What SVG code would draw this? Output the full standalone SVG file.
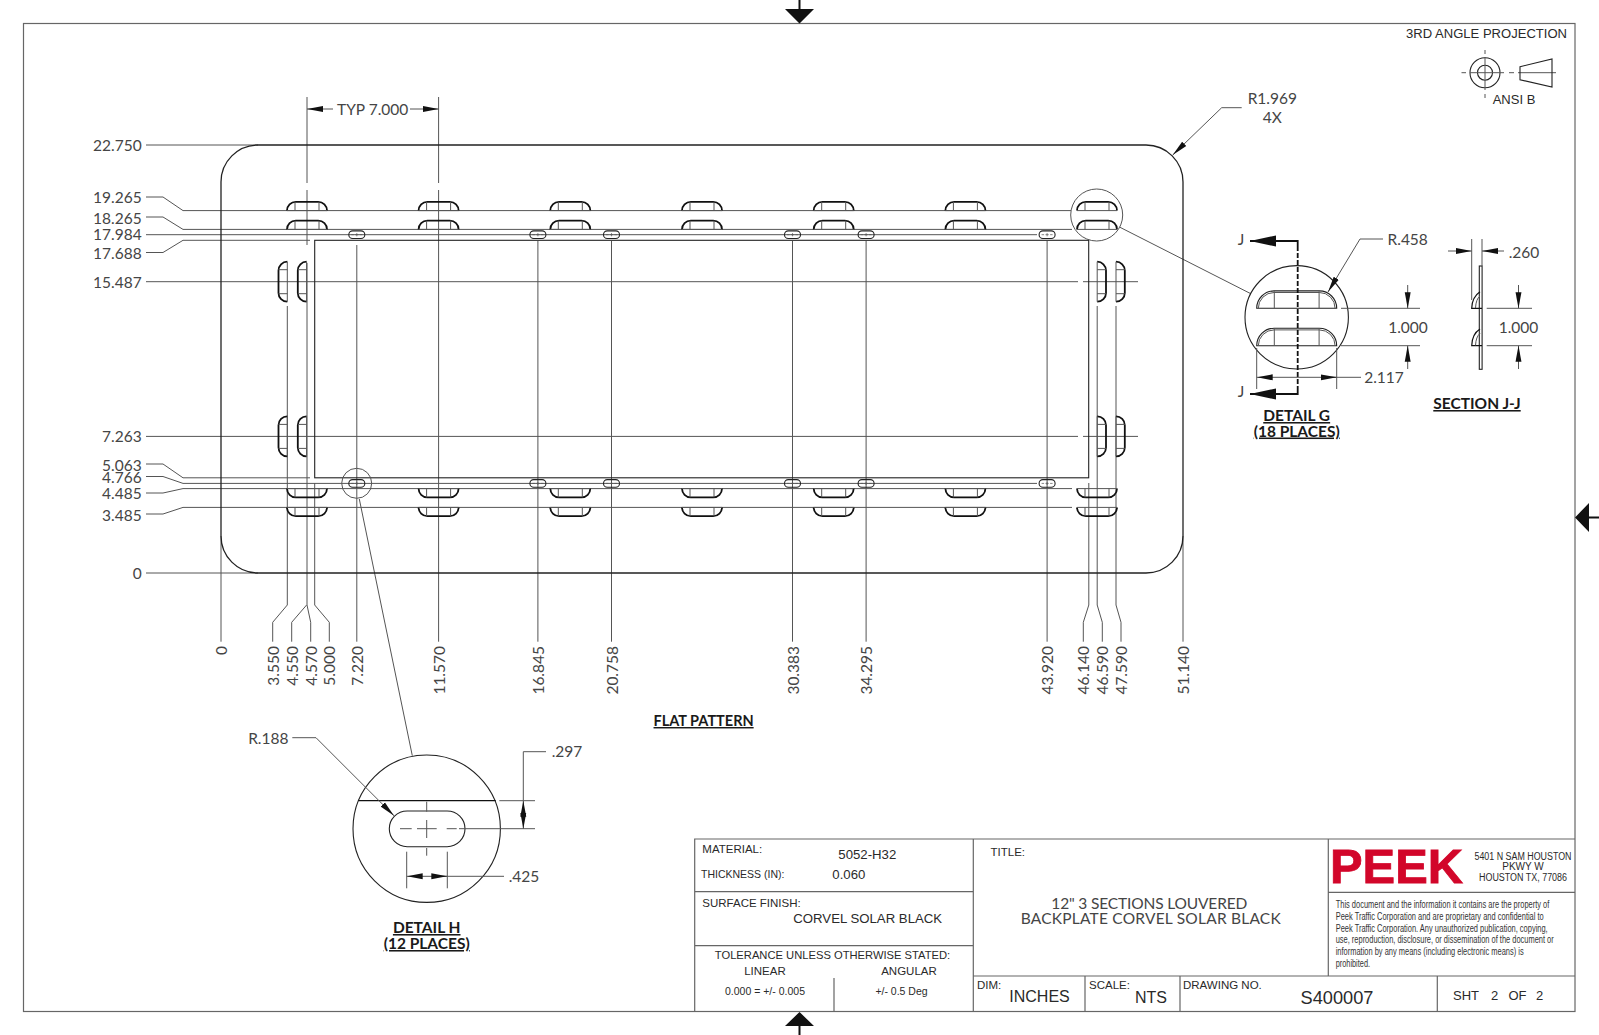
<svg xmlns="http://www.w3.org/2000/svg" xmlns:xlink="http://www.w3.org/1999/xlink" width="1599" height="1035" viewBox="0 0 1599 1035">
<style>
text{font-family:"Liberation Sans",Arial,sans-serif;fill:#2a2a2a}
.d{font-family:Lato,"Open Sans",sans-serif;font-size:15.5px;fill:#454545}
.e{text-anchor:end}.m{text-anchor:middle}
.h{font-family:Lato,"Open Sans",sans-serif;font-size:15.5px;font-weight:700;fill:#1a1a1a;text-anchor:middle;text-decoration:underline}
.ext{fill:none;stroke:#555;stroke-width:1}
.dk{fill:none;stroke:#222;stroke-width:1.1}
.th{fill:none;stroke:#111;stroke-width:1.8}
.tb{fill:none;stroke:#666;stroke-width:1.2}
.arr{marker-end:url(#ah)}
.fine{font-size:11.4px;fill:#333}
.s{font-size:11.5px}
.b{font-size:13.2px}
</style>
<defs>
<marker id="ah" markerUnits="userSpaceOnUse" markerWidth="16" markerHeight="8" viewBox="0 0 14 6" refX="14" refY="3" orient="auto"><path d="M0,0.4L14,3L0,5.6z" fill="#111"/></marker>
<marker id="aj" markerUnits="userSpaceOnUse" markerWidth="26" markerHeight="12" viewBox="0 0 26 12" refX="26" refY="6" orient="auto"><path d="M0,0.5L0,11.5L26,6z" fill="#111"/></marker>
<g id="lv"><path class="th" d="M-20,0A8.8,8.8 0 0 1 -11.2,-8.8H11.2A8.8,8.8 0 0 1 20,0"/><path class="ext" d="M-20,0H20M-12,0V-8.8M12,0V-8.8"/></g>
<g id="sl"><rect class="dk" x="-8" y="-3.8" width="16" height="7.6" rx="3.8"/><path class="ext" d="M-5.5,0H-3M-1.6,0H1.6M3,0H5.5M0,-1.6V1.6" style="stroke-width:.7"/></g>
<g id="ln"><path class="dk" d="M-40,0A17.4,17.4 0 0 1 -22.6,-17.4H22.6A17.4,17.4 0 0 1 40,0Z"/><path class="ext" d="M-38.4,0A15.8,15.8 0 0 1 -22.6,-15.8H22.6A15.8,15.8 0 0 1 38.4,0M-22.4,0V-17M22.4,0V-17"/></g>
</defs>
<rect width="1599" height="1035" fill="#fff"/>
<g id="frame">
<rect class="tb" x="23.5" y="23.5" width="1551.5" height="988"/>
<path d="M785,9H814L799.5,23.5zM1589,503V532L1575,517.5zM785,1026H814L799.5,1012z" fill="#111"/>
<path d="M799.5,0V10M1588,517.5H1599M799.5,1025V1035" stroke="#111" stroke-width="2" fill="none"/>
</g>
<g id="projection">
<text x="1406" y="38.3" style="font-size:13.6px" textLength="161" lengthAdjust="spacingAndGlyphs">3RD ANGLE PROJECTION</text>
<circle class="dk" cx="1485" cy="72.7" r="15"/><circle class="dk" cx="1485" cy="72.7" r="7.5"/>
<path class="ext" d="M1461.5,72.7H1466M1470,72.7H1504M1509,72.7H1514M1518,72.7H1556M1485,50V54M1485,57V90M1485,94V98"/>
<path class="dk" d="M1520,66.7L1552,59V87L1520,79.7Z"/>
<text class="m" x="1514" y="104" style="font-size:13px">ANSI B</text>
</g>
<g id="connectors">
<path class="ext" d="M146,145H258M146,197H163L183,210.6H1071M146,217H163L183,229.4H1072M146,234.7H1037M146,252.5H163L183,240.3H310M146,281.7H1078M1083,281.7H1138M146,436.4H1078M1083,436.4H1138M146,464H163L183,477.8H310M146,476.5H163L183,483.4H1037M146,493H163L183,488.6H1072M146,514H163L183,507.4H1072M146,573H258"/>
<path class="ext" d="M307,97V183M307,190V245M307,263V605L310.7,622.3V641.7M306.6,605L291.7,622.3V641.7M287.3,306V605L272.7,622.3V641.7M314.7,483V605L329.3,622.3V641.7M221,536V641.7M356.8,245V641.7M438.6,97V183M438.6,190V641.7M537.9,241V641.7M611.5,241V641.7M792.5,241V641.7M866.1,241V641.7M1047.1,241V641.7M1088.8,483V605L1083.3,622.3V641.7M1097.2,306V605L1102.3,622.3V641.7M1116,306V605L1121,622.3V641.7M1183,536V641.7"/>
<path class="ext arr" d="M333,109H307"/><path class="ext arr" d="M410,109H438.6"/>
<path class="ext arr" d="M1241.7,107.7H1221.7L1172.7,155"/>
<path class="ext" d="M1120,227.3L1250,293.3M359.3,499L412.3,755.7"/>
</g>
<g id="flat-pattern">
<rect class="dk" x="221" y="145" width="962" height="428" rx="37" style="stroke-width:1.3"/>
<rect class="dk" x="314.7" y="240.3" width="774" height="237.5"/>
<g id="louvers-top">
<use href="#lv" x="307" y="210.6"/><use href="#lv" x="307" y="229.4"/><use href="#lv" x="438.6" y="210.6"/><use href="#lv" x="438.6" y="229.4"/><use href="#lv" x="570.3" y="210.6"/><use href="#lv" x="570.3" y="229.4"/><use href="#lv" x="702" y="210.6"/><use href="#lv" x="702" y="229.4"/><use href="#lv" x="833.7" y="210.6"/><use href="#lv" x="833.7" y="229.4"/><use href="#lv" x="965.4" y="210.6"/><use href="#lv" x="965.4" y="229.4"/><use href="#lv" x="1097" y="210.6"/><use href="#lv" x="1097" y="229.4"/>
</g>
<g id="louvers-bottom">
<use href="#lv" transform="translate(307,488.6) scale(1,-1)"/><use href="#lv" transform="translate(307,507.4) scale(1,-1)"/><use href="#lv" transform="translate(438.6,488.6) scale(1,-1)"/><use href="#lv" transform="translate(438.6,507.4) scale(1,-1)"/><use href="#lv" transform="translate(570.3,488.6) scale(1,-1)"/><use href="#lv" transform="translate(570.3,507.4) scale(1,-1)"/><use href="#lv" transform="translate(702,488.6) scale(1,-1)"/><use href="#lv" transform="translate(702,507.4) scale(1,-1)"/><use href="#lv" transform="translate(833.7,488.6) scale(1,-1)"/><use href="#lv" transform="translate(833.7,507.4) scale(1,-1)"/><use href="#lv" transform="translate(965.4,488.6) scale(1,-1)"/><use href="#lv" transform="translate(965.4,507.4) scale(1,-1)"/><use href="#lv" transform="translate(1097,488.6) scale(1,-1)"/><use href="#lv" transform="translate(1097,507.4) scale(1,-1)"/>
</g>
<g id="louvers-side">
<use href="#lv" transform="translate(287.3,281.7) rotate(-90)"/><use href="#lv" transform="translate(306.6,281.7) rotate(-90)"/><use href="#lv" transform="translate(287.3,436.4) rotate(-90)"/><use href="#lv" transform="translate(306.6,436.4) rotate(-90)"/>
<use href="#lv" transform="translate(1097.2,281.7) rotate(90)"/><use href="#lv" transform="translate(1116,281.7) rotate(90)"/><use href="#lv" transform="translate(1097.2,436.4) rotate(90)"/><use href="#lv" transform="translate(1116,436.4) rotate(90)"/>
</g>
<g id="slots">
<use href="#sl" x="356.8" y="234.7"/><use href="#sl" x="537.9" y="234.7"/><use href="#sl" x="611.5" y="234.7"/><use href="#sl" x="792.5" y="234.7"/><use href="#sl" x="866.1" y="234.7"/><use href="#sl" x="1047.1" y="234.7"/>
<use href="#sl" x="356.8" y="483.4"/><use href="#sl" x="537.9" y="483.4"/><use href="#sl" x="611.5" y="483.4"/><use href="#sl" x="792.5" y="483.4"/><use href="#sl" x="866.1" y="483.4"/><use href="#sl" x="1047.1" y="483.4"/>
</g>
<circle class="ext" cx="1096.7" cy="215" r="26"/>
<circle class="ext" cx="356.7" cy="483.3" r="15"/>
</g>
<g id="dimensions">
<text class="d e" x="141.7" y="151">22.750</text><text class="d e" x="141.7" y="203.3">19.265</text><text class="d e" x="141.7" y="223.7">18.265</text><text class="d e" x="141.7" y="240.3">17.984</text><text class="d e" x="141.7" y="259.3">17.688</text><text class="d e" x="141.7" y="287.7">15.487</text><text class="d e" x="141.7" y="442.3">7.263</text><text class="d e" x="141.7" y="470.7">5.063</text><text class="d e" x="141.7" y="482.7">4.766</text><text class="d e" x="141.7" y="498.7">4.485</text><text class="d e" x="141.7" y="520.7">3.485</text><text class="d e" x="141.7" y="579">0</text>
<text class="d e" transform="translate(227,646) rotate(-90)">0</text><text class="d e" transform="translate(279,646) rotate(-90)">3.550</text><text class="d e" transform="translate(297.7,646) rotate(-90)">4.550</text><text class="d e" transform="translate(316.7,646) rotate(-90)">4.570</text><text class="d e" transform="translate(335.3,646) rotate(-90)">5.000</text><text class="d e" transform="translate(362.7,646) rotate(-90)">7.220</text><text class="d e" transform="translate(444.6,646) rotate(-90)">11.570</text><text class="d e" transform="translate(543.9,646) rotate(-90)">16.845</text><text class="d e" transform="translate(617.5,646) rotate(-90)">20.758</text><text class="d e" transform="translate(798.5,646) rotate(-90)">30.383</text><text class="d e" transform="translate(872.1,646) rotate(-90)">34.295</text><text class="d e" transform="translate(1053.1,646) rotate(-90)">43.920</text><text class="d e" transform="translate(1089.3,646) rotate(-90)">46.140</text><text class="d e" transform="translate(1108.3,646) rotate(-90)">46.590</text><text class="d e" transform="translate(1127,646) rotate(-90)">47.590</text><text class="d e" transform="translate(1189,646) rotate(-90)">51.140</text>
<text class="d m" x="372.7" y="115">TYP 7.000</text>
<text class="d m" x="1272.3" y="104.3">R1.969</text><text class="d m" x="1272.3" y="122.7">4X</text>
<text class="h" x="703.6" y="726" style="font-size:14.5px">FLAT PATTERN</text>
</g>
<g id="detail-g">
<circle class="dk" cx="1296.7" cy="317.3" r="51.7"/>
<use href="#ln" x="1296.7" y="308.3"/><use href="#ln" x="1296.7" y="345.7"/>
<path class="th" style="stroke-dasharray:5 2" d="M1297.7,246V389"/>
<path class="th" style="marker-end:url(#aj)" d="M1297.7,246V241H1250"/><path class="th" style="marker-end:url(#aj)" d="M1297.7,389V394H1250"/>
<text class="d m" x="1241" y="244.5">J</text><text class="d m" x="1241" y="397">J</text>
<path class="ext arr" d="M1383,239H1360L1328,292"/>
<path class="ext" d="M1341,308.3H1420M1341,345.7H1420M1256.7,348V389M1336.7,348V389"/>
<path class="ext arr" d="M1407.7,285V308.3"/><path class="ext arr" d="M1407.7,369V345.7"/>
<path class="ext" d="M1270,377.3H1361"/><path class="ext arr" d="M1270,377.3H1256.7"/><path class="ext arr" d="M1324,377.3H1336.7"/>
<text class="d m" x="1408" y="333">1.000</text><text class="d m" x="1407.7" y="244.5">R.458</text><text class="d m" x="1384" y="383">2.117</text>
<text class="h" x="1296.7" y="421">DETAIL G</text><text class="h" x="1296.7" y="436.5">(18 PLACES)</text>
</g>
<g id="section-jj">
<rect class="dk" x="1479.3" y="266" width="2.8" height="103.3"/>
<path class="th" style="stroke-width:1.2" d="M1480,291.7Q1472,297 1471.7,308.3H1482M1480,329Q1472,334 1471.7,345.7H1482"/>
<path class="ext" d="M1475.5,308Q1476,299 1480,296M1475.5,345.4Q1476,336.5 1480,333.5"/>
<path class="ext" d="M1471.7,239V300M1482,239V266M1486.7,308.3H1532M1486.7,345.7H1532"/>
<path class="ext arr" d="M1448,251H1471.7"/><path class="ext arr" d="M1504,251H1482"/>
<path class="ext arr" d="M1518.5,285V308.3"/><path class="ext arr" d="M1518.5,369V345.7"/>
<text class="d m" x="1524" y="257.5">.260</text><text class="d m" x="1518.5" y="333">1.000</text>
<text class="h" x="1477" y="409">SECTION J-J</text>
</g>
<g id="detail-h">
<circle class="dk" cx="426.7" cy="828.7" r="73.7"/>
<path class="th" style="stroke-width:1.3" d="M358.3,800.7H495.7"/>
<rect class="dk" x="389.3" y="811" width="75.7" height="35.7" rx="17.85"/>
<path class="ext" d="M426.7,801.7V811.7M426.7,820V838M426.7,848V855.7M400,828.7H411.7M417,828.7H436.7M446.7,828.7H456.7M459,828.7H535M499.3,800.7H535"/>
<path class="ext" d="M523.3,751.7H546M523.3,800.7V751.7"/>
<path class="ext arr" d="M523.3,815V800.7"/><path class="ext arr" d="M523.3,815V828.7"/>
<path class="ext" d="M406.7,851.7V888.3M447.3,851.7V888.3M420,876.3H504"/>
<path class="ext arr" d="M420,876.3H406.7"/><path class="ext arr" d="M434,876.3H447.3"/>
<path class="ext arr" d="M292.3,737.7H316L394,815.7"/>
<text class="d m" x="268.3" y="744">R.188</text><text class="d m" x="567" y="757">.297</text><text class="d m" x="524" y="882">.425</text>
<text class="h" x="426.7" y="933">DETAIL H</text><text class="h" x="426.7" y="949">(12 PLACES)</text>
</g>
<g id="title-block">
<path class="tb" d="M694.7,1011.5V839H1575M694.7,891.7H973.3M694.7,945.7H973.3M973.3,839V1011.5M834,978V1011.5M973.3,976H1575M1085,976V1011.5M1180,976V1011.5M1437.3,976V1011.5M1328.3,839V976M1328.3,892.3H1575"/>
<text class="s" x="702.3" y="852.7">MATERIAL:</text>
<text class="b" x="838.3" y="858.7">5052-H32</text>
<text style="font-size:10.5px" x="701" y="878">THICKNESS (IN):</text>
<text class="b" x="832.3" y="878.5">0.060</text>
<text class="s" x="702.3" y="907">SURFACE FINISH:</text>
<text class="b" x="793.3" y="923">CORVEL SOLAR BLACK</text>
<text class="m" style="font-size:11.2px" x="832.5" y="959.3">TOLERANCE UNLESS OTHERWISE STATED:</text>
<text class="s m" x="765" y="975">LINEAR</text><text class="s m" x="909" y="975">ANGULAR</text>
<text class="m" style="font-size:10.5px" x="765" y="995.3">0.000 = +/- 0.005</text><text class="m" style="font-size:10.5px" x="901.5" y="995.3">+/- 0.5 Deg</text>
<text class="s" x="990.5" y="856">TITLE:</text>
<text class="d m" x="1149.3" y="909" textLength="196">12" 3 SECTIONS LOUVERED</text>
<text class="d m" x="1150.7" y="924" textLength="260">BACKPLATE CORVEL SOLAR BLACK</text>
<text class="s" x="977" y="989">DIM:</text><text class="m" style="font-size:16px" x="1039.5" y="1002">INCHES</text>
<text class="s" x="1089" y="989">SCALE:</text><text class="m" style="font-size:16px" x="1151" y="1003">NTS</text>
<text class="s" x="1183" y="989">DRAWING NO.</text><text class="m" style="font-size:18.2px" x="1337" y="1003.5">S400007</text>
<text style="font-size:13px" x="1453" y="1000">SHT</text><text style="font-size:13px" x="1491" y="1000">2</text><text style="font-size:13px" x="1508.5" y="1000">OF</text><text style="font-size:13px" x="1536" y="1000">2</text>
<text x="1330" y="883.3" textLength="133" lengthAdjust="spacingAndGlyphs" style="font-size:48px;font-weight:700;fill:#d2062a;stroke:#d2062a;stroke-width:.8">PEEK</text>
<text class="m" style="font-size:10px" x="1523" y="860" textLength="97" lengthAdjust="spacingAndGlyphs">5401 N SAM HOUSTON</text>
<text class="m" style="font-size:10px" x="1523" y="870">PKWY W</text>
<text class="m" style="font-size:10px" x="1523" y="880.7" textLength="88" lengthAdjust="spacingAndGlyphs">HOUSTON TX, 77086</text>
<g transform="translate(1335.7,0) scale(.66,1)">
<text class="fine" x="0" y="908.3" textLength="323.6" lengthAdjust="spacingAndGlyphs">This document and the information it contains are the property of</text>
<text class="fine" x="0" y="920" textLength="315.2" lengthAdjust="spacingAndGlyphs">Peek Traffic Corporation and are proprietary and confidential to</text>
<text class="fine" x="0" y="931.7" textLength="321.2" lengthAdjust="spacingAndGlyphs">Peek Traffic Corporation. Any unauthorized publication, copying,</text>
<text class="fine" x="0" y="943.3" textLength="330.3" lengthAdjust="spacingAndGlyphs">use, reproduction, disclosure, or dissemination of the document or</text>
<text class="fine" x="0" y="955" textLength="284.8" lengthAdjust="spacingAndGlyphs">information by any means (including electronic means) is</text>
<text class="fine" x="0" y="967" textLength="52" lengthAdjust="spacingAndGlyphs">prohibited.</text>
</g>
</g>
</svg>
